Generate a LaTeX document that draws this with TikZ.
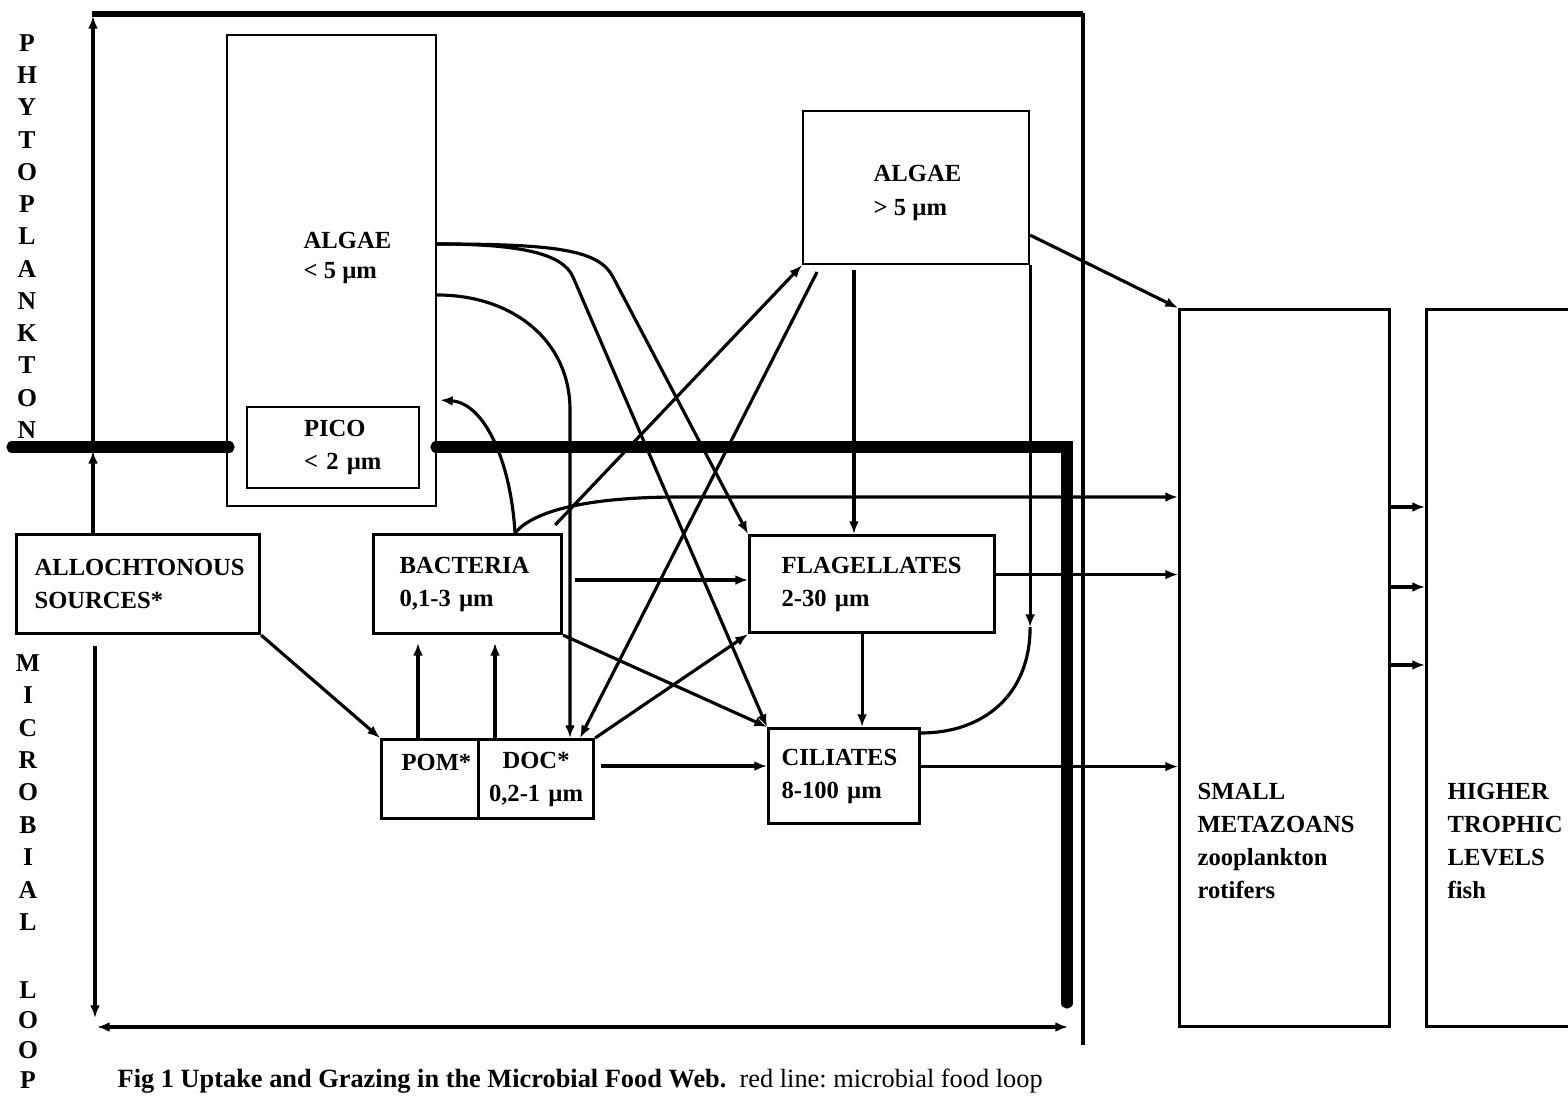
\documentclass[tikz,border=0pt]{standalone}
\usepackage{fontspec}
\setmainfont{Liberation Serif}
\usetikzlibrary{arrows.meta,calc,positioning}
\frenchspacing

\begin{document}
\begin{tikzpicture}[x=0.1mm,y=-0.1mm,
    font=\fontsize{7}{9.4}\selectfont\bfseries,
    box/.style={draw,line width=0.9pt,anchor=north west,inner ysep=0pt,align=left},
    thinbox/.style={draw,line width=0.6pt,anchor=north west,inner ysep=0pt,align=left},
    txt/.style={anchor=west,align=left,inner sep=0pt},
    con/.style={line width=0.9pt},
    arr/.style={con,-{Latex[length=3.6pt,width=2.8pt]}},
    dbl/.style={line width=1.1pt,{Latex[length=3.6pt,width=2.8pt]}-{Latex[length=3.6pt,width=2.8pt]}},
    mloop/.style={line width=3.2pt,line cap=round,line join=miter},
    vlet/.style={inner sep=0pt,font=\fontsize{7.3}{8}\selectfont\bfseries}]
  \useasboundingbox (0,0) rectangle (1568,1097);

  % Side labels
  \foreach \l [count=\i] in {P,H,Y,T,O,P,L,A,N,K,T,O,N}
    \node[vlet] (ph\i) at (27,{43+32.25*(\i-1)}) {\l};
  \foreach \l [count=\i] in {M,I,C,R,O,B,I,A,L}
    \node[vlet] (mi\i) at (28,{663+32.4*(\i-1)}) {\l};
  \foreach \l [count=\i] in {L,O,O,P}
    \node[vlet] (lo\i) at (28,{990+30*(\i-1)}) {\l};

  % Compartments
  \node[thinbox, minimum width=20.9mm, minimum height=47.1mm, inner xsep=0pt] (algaeS) at (226,34) {};
  \node[txt, font=\fontsize{7}{8.5}\selectfont\bfseries] (algaeStxt) at (303,258) {ALGAE\\< 5 µm};
  \node[thinbox, text width=5.8mm, inner xsep=5.7mm, minimum height=8.1mm] (pico) at (246,406) {PICO\\\mbox{< 2 µm}};
  \node[thinbox, minimum width=22.6mm, minimum height=15.3mm, inner xsep=0pt] (algaeL) at (802,110) {};
  \node[txt] (algaeLtxt) at (873,193) {ALGAE\\> 5 µm};
  \node[box, text width=20.7mm, inner xsep=1.8mm, minimum height=9.9mm] (allo) at (15,533) {ALLOCHTONOUS\\SOURCES*};
  \node[box, text width=13.6mm, inner xsep=2.6mm, minimum height=9.9mm] (bact) at (372,533) {BACTERIA\\0,1-3 µm};
  \node[box, text width=18.1mm, inner xsep=3.2mm, minimum height=9.7mm] (flag) at (748,534) {FLAGELLATES\\2-30 µm};
  \node[box, text width=12.5mm, inner xsep=1.3mm, minimum height=9.5mm] (cil) at (767,727) {CILIATES\\8-100 µm};
  \node[box, text width=5.7mm, inner xsep=2mm, minimum height=7.9mm] (pom) at (380,738) {POM*\\~};
  \node[box, text width=11.5mm, inner xsep=0pt, minimum height=7.9mm, align=center] (doc) at (477,738) {DOC*\\0,2-1 µm};
  \node[box, minimum width=21mm, minimum height=71.7mm, inner xsep=0pt] (metaz) at (1178,308) {};
  \node[txt] (metaztxt) at (1197,841) {SMALL\\METAZOANS\\zooplankton\\rotifers};
  \node[box, minimum width=15.5mm, minimum height=71.7mm, inner xsep=0pt] (higher) at (1425,308) {};
  \node[txt] (highertxt) at (1447,841) {HIGHER\\TROPHIC\\LEVELS\\fish};

  % Frame
  \draw[line width=1.5pt] (92,14) -- (1083,14);
  \draw[line width=1.1pt] (1083,13) -- (1083,1045);
  \draw[arr] ($(allo.north west)+(78,0)$) -- (93,451);
  \draw[arr] (93,447) -- (93,16);
  \draw[arr] ($(allo.south west)+(80,11)$) -- (95,1018);
  \draw[dbl] (97,1027) -- (1068,1027);

  % Connection points
  \coordinate (sA) at ($(algaeS.north east)+(0,210)$);
  \coordinate (sB) at ($(algaeS.north east)+(0,261)$);
  \coordinate (kA) at (613,277);
  \coordinate (kB) at (573,277);
  \coordinate (kC) at (570,410);
  \coordinate (bT) at ($(bact.north west)+(143,0)$);
  \coordinate (bH) at (680,497);
  \coordinate (bR) at ($(bact.east)+(12,-4)$);
  \coordinate (dR) at ($(doc.east)+(6,-13)$);
  \coordinate (lB) at ($(algaeL.south west)+(52,5)$);
  \coordinate (lT) at ($(algaeL.south east)+(0,362)$);
  \coordinate (fB) at ($(flag.south)+(-10,0)$);
  \coordinate (fR) at ($(flag.east)+(0,-9.5)$);
  \coordinate (cR) at ($(cil.east)+(0,-9.5)$);

  % Uptake and grazing
  \draw[arr] (sA) .. controls +(120,0) and +(-14,-27) .. (kA) -- (flag.north west);
  \draw[arr] (sA) .. controls +(85,0) and +(-10,-23) .. (kB) -- (cil.north west);
  \draw[arr] (sB) .. controls +(75,0) and +(0,-70) .. (kC) -- (kC |- doc.north);
  \draw[arr] (bT) .. controls +(-4,-70) and +(45,3) .. ($(algaeS.south east)+(3,-107)$);
  \draw[arr] (bT) .. controls +(25,-30) and +(-60,0) .. (bH) -- (bH -| metaz.west);
  \draw[arr] ($(bact.north east)+(-8,-8)$) -- (algaeL.south west);
  \draw[arr] (bR) -- (bR -| flag.west);
  \draw[arr] (bact.south east) -- (cil.north west);
  \draw[arr] (doc.north east) -- (flag.south west);
  \draw[arr] (dR) -- (dR -| cil.west);
  \foreach \dx in {38,115}
    \draw[arr] ($(pom.north west)+(\dx,0)$) -- ($(pom.north west)+(\dx,-95)$);
  \draw[arr] (allo.south east) -- (pom.north west);
  \draw[arr] ($(algaeL.south west)+(15,7)$) -- ($(doc.north west)+(103,0)$);
  \draw[arr] (lB) -- (lB |- flag.north);
  \draw[arr] (algaeL.south east) -- (lT);
  \draw[con] (lT) .. controls +(0,70) and +(60,0) .. ($(cil.north east)+(0,6)$);
  \draw[arr] ($(algaeL.south east)+(0,-30)$) -- (metaz.north west);
  \draw[arr] (fB) -- (fB |- cil.north);
  \draw[arr] (fR) -- (fR -| metaz.west);
  \draw[arr] (cR) -- (cR -| metaz.west);
  \foreach \dy in {199,279,357}
    \draw[arr] ($(metaz.north east)+(0,\dy)$) -- ($(higher.north west)+(0,\dy)$);

  % Microbial loop
  \draw[mloop] (12,447) -- (229,447);
  \draw[mloop] (436,447) -- (1067,447) -- (1067,1003);

  % Caption
  \node[anchor=base west, inner sep=0pt, font=\fontsize{7.5}{9}\selectfont\bfseries] (caption) at (117,1088)
    {Fig 1 Uptake and Grazing in the Microbial Food Web.\ \ \mdseries red line: microbial food loop};
\end{tikzpicture}
\end{document}
